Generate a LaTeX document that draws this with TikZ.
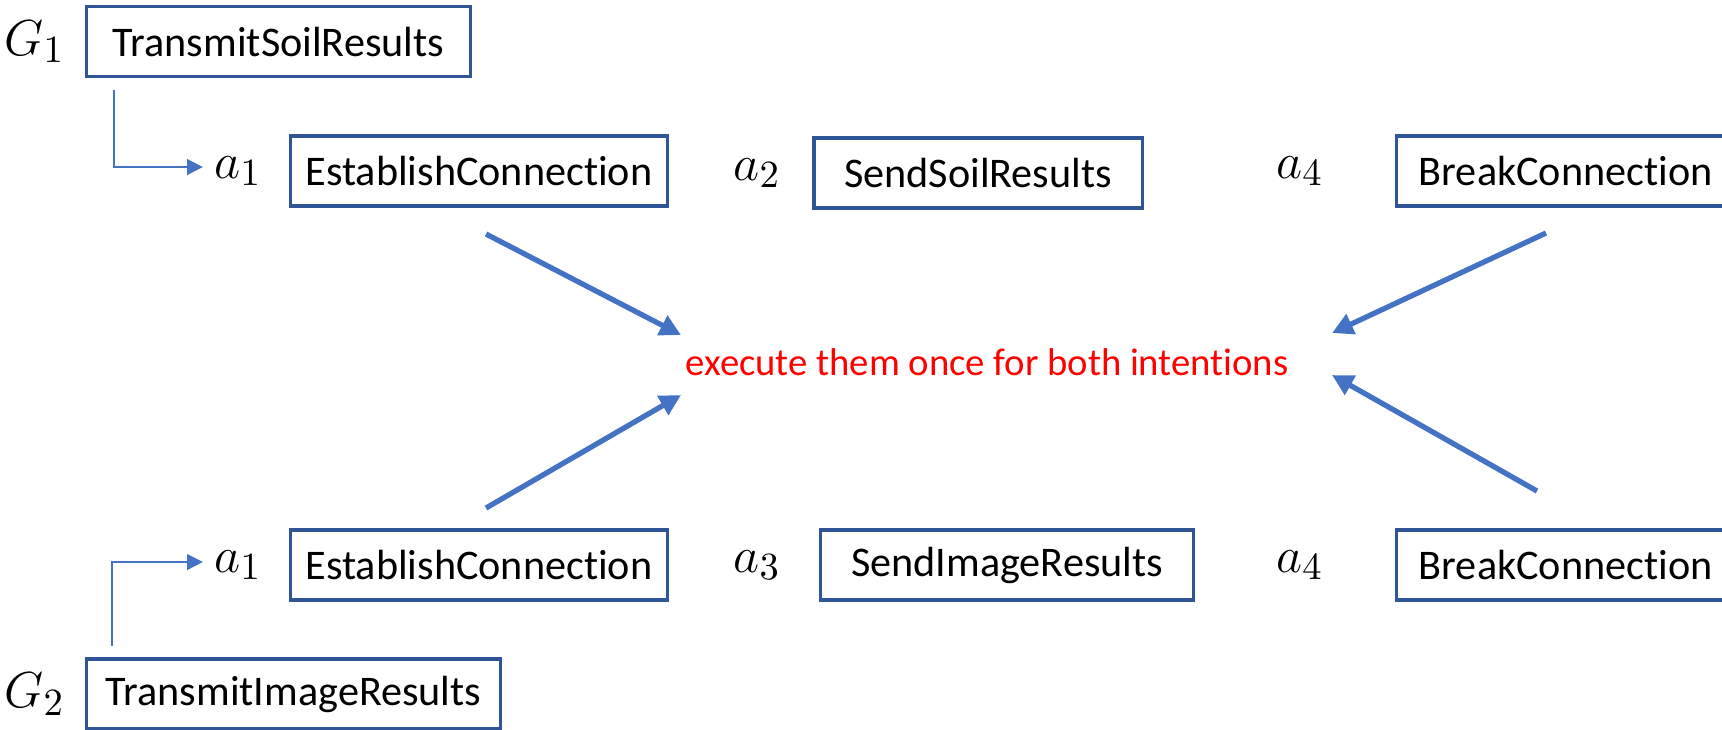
\documentclass[tikz,border=0pt]{standalone}
\usepackage{fontspec}
\setmainfont{Carlito}[Ligatures=NoCommon]
\usetikzlibrary{arrows.meta,positioning,calc}
\definecolor{boxblue}{HTML}{2F5597}
\definecolor{linkblue}{HTML}{4472C4}

\begin{document}
\begin{tikzpicture}[x=0.01cm, y=-0.01cm,
      task/.style={
        draw=boxblue, line width=0.9pt,
        minimum height=0.7cm, inner sep=0pt,
        font=\fontsize{12}{14}\selectfont
      },
      var/.style={inner sep=0pt, font=\fontsize{15.5}{17}\selectfont},
      link/.style={-{Triangle[length=4.5pt,width=4.5pt]}, line width=0.5pt, draw=linkblue},
      merge/.style={-{Triangle[length=6pt,width=6pt]}, line width=1.5pt, draw=linkblue}
    ]
      \useasboundingbox (0,0) rectangle (1722,729);

      % goals
      \node[task, minimum width=3.83cm] (g1) at (278.5,41.5) {TransmitSoilResults};
      \node[var, left=0.2cm of g1] (g1var) {$G_1$};
      \node[task, minimum width=4.13cm] (g2) at (293.5,694) {TransmitImageResults};
      \node[var, left=0.2cm of g2] (g2var) {$G_2$};

      % plan of G1
      \node[task, minimum width=3.76cm] (est1) at (479,171) {EstablishConnection};
      \node[var, left=0.27cm of est1] (a1top) {$a_1$};
      \node[task, minimum width=3.28cm] (soil) at (978,173) {SendSoilResults};
      \node[var, left=0.31cm of soil] (a2) {$a_2$};
      \node[task, minimum width=3.38cm, anchor=west] (brk1) at (1395,171) {BreakConnection};
      \node[var, left=0.71cm of brk1] (a4top) {$a_4$};

      % plan of G2
      \node[task, minimum width=3.76cm] (est2) at (479,565) {EstablishConnection};
      \node[var, left=0.27cm of est2] (a1bot) {$a_1$};
      \node[task, minimum width=3.72cm] (img) at (1007,565) {SendImageResults};
      \node[var, left=0.38cm of img] (a3) {$a_3$};
      \node[task, minimum width=3.38cm, anchor=west] (brk2) at (1395,565) {BreakConnection};
      \node[var, left=0.71cm of brk2] (a4bot) {$a_4$};

      \node[text=red, font=\fontsize{11}{13}\selectfont] (note) at (987,362) {execute them once for both intentions};

      \draw[link] ($(g1.south west)+(29,12)$) |- ($(a1top.west)+(-11,-4)$);
      \draw[link] ($(g2.north west)+(27,-11)$) |- ($(a1bot.west)+(-11,-3)$);

      % shared actions
      \coordinate (estA) at (486,234);
      \coordinate (estB) at (486,508);
      \coordinate (brkA) at (1546,233);
      \coordinate (brkB) at (1537,491);
      \coordinate (inA) at (681,335);
      \coordinate (inB) at (681,395);
      \coordinate (inC) at (1332,333);
      \coordinate (inD) at (1332,375);
      \draw[merge] (estA) -- (inA);
      \draw[merge] (estB) -- (inB);
      \draw[merge] (brkA) -- (inC);
      \draw[merge] (brkB) -- (inD);
\end{tikzpicture}
\end{document}
